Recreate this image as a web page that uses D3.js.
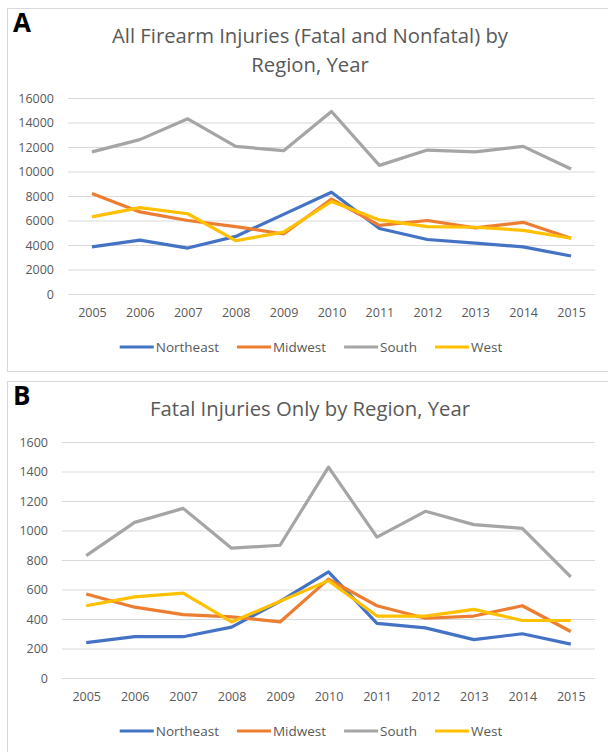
<!DOCTYPE html>
<html>
<head>
<meta charset="utf-8">
<script src="https://cdn.jsdelivr.net/npm/d3@7"></script>
<style>
	body { margin: 0; background: #fff; }
	text { font-family: "Open Sans", "Noto Sans", sans-serif; }
</style>
</head>
<body>
<div id="chart"></div>
<script>
// years on the x axis
const years = ["2005", "2006", "2007", "2008", "2009", "2010", "2011", "2012", "2013", "2014", "2015"];
const regions = ["Northeast", "Midwest", "South", "West"];

// panel A: all firearm injuries
const allNortheast = [3850, 4400, 3750, 4700, 6500, 8300, 5350, 4450, 4150, 3850, 3100];
const allMidwest   = [8200, 6700, 6000, 5500, 4900, 7750, 5600, 6000, 5400, 5850, 4550];
const allSouth     = [11600, 12600, 14300, 12050, 11700, 14900, 10500, 11750, 11600, 12050, 10200];
const allWest      = [6300, 7050, 6550, 4350, 5050, 7550, 6050, 5500, 5450, 5200, 4550];
const allTicks = [0, 2000, 4000, 6000, 8000, 10000, 12000, 14000, 16000];

// panel B: fatal injuries only
const fatalNortheast = [240, 280, 280, 345, 520, 720, 370, 340, 260, 300, 230];
const fatalMidwest   = [570, 480, 430, 415, 380, 670, 490, 405, 420, 490, 315];
const fatalSouth     = [830, 1055, 1150, 880, 900, 1430, 955, 1130, 1040, 1015, 685];
const fatalWest      = [490, 550, 575, 380, 520, 660, 420, 420, 465, 390, 390];
const fatalTicks = [0, 200, 400, 600, 800, 1000, 1200, 1400, 1600];

const colors = ["#4472C4", "#ED7D31", "#A5A5A5", "#FFC000"];
const textColor = "#595959";

const svg = d3.select("#chart").append("svg")
	.attr("width", 608)
	.attr("height", 752);

function drawPanel(p) {
	//outer frame of the panel
	svg.append("rect")
		.attr("x", 7.5).attr("y", p.top + 0.5)
		.attr("width", 620).attr("height", p.boxHeight)
		.attr("fill", "#fff")
		.attr("stroke", "#d9d9d9");

	//panel letter
	svg.append("text")
		.attr("x", 13).attr("y", p.top + 24)
		.attr("font-family", "Liberation Sans, Arial, sans-serif")
		.attr("font-weight", "bold")
		.attr("font-size", 26)
		.attr("fill", "#000")
		.text(p.letter);

	//title lines
	p.title.forEach(function(t, i) {
		svg.append("text")
			.attr("x", 310)
			.attr("y", p.titleY + i * 29)
			.attr("text-anchor", "middle")
			.attr("font-size", 20.3)
			.attr("fill", textColor)
			.text(t);
	});

	const x = d3.scalePoint().domain(years).range([p.left, 595]).padding(0.5);
	const y = d3.scaleLinear().domain([0, d3.max(p.ticks)]).range([p.bottom, p.yTop]);

	//y axis with gridlines
	const yAxis = svg.append("g")
		.attr("transform", "translate(" + p.left + ",0)")
		.call(d3.axisLeft(y).tickValues(p.ticks).tickFormat(d3.format("d"))
			.tickSize(-(595 - p.left)).tickPadding(14));
	yAxis.select(".domain").remove();
	yAxis.selectAll("line").attr("stroke", "#d9d9d9");
	yAxis.selectAll("text")
		.attr("font-size", 12.5)
		.attr("font-family", "Open Sans, sans-serif")
		.attr("fill", textColor);

	//x axis labels
	const xAxis = svg.append("g")
		.attr("transform", "translate(0," + p.bottom + ")")
		.call(d3.axisBottom(x).tickSize(0).tickPadding(14.5));
	xAxis.select(".domain").remove();
	xAxis.selectAll("text")
		.attr("font-size", 12.5)
		.attr("font-family", "Open Sans, sans-serif")
		.attr("fill", textColor);

	//series lines
	const line = d3.line()
		.x(function(d, i) { return x(years[i]); })
		.y(function(d) { return y(d); });

	p.series.forEach(function(s, i) {
		svg.append("path")
			.datum(s)
			.attr("fill", "none")
			.attr("stroke", colors[i])
			.attr("stroke-width", 3.2)
			.attr("stroke-linejoin", "round")
			.attr("d", line);
	});

	//legend
	const legend = svg.append("g");
	let pos = 0;
	regions.forEach(function(r, i) {
		const item = legend.append("g").attr("transform", "translate(" + pos + ",0)");
		item.append("line")
			.attr("x1", 0).attr("x2", 34)
			.attr("stroke", colors[i])
			.attr("stroke-width", 3.2);
		const t = item.append("text")
			.attr("x", 36)
			.attr("dy", "0.35em")
			.attr("font-size", 13.5)
			.attr("fill", textColor)
			.text(r);
		pos += 36 + t.node().getComputedTextLength() + 18;
	});
	pos -= 18;
	legend.attr("transform", "translate(" + (311 - pos / 2) + "," + p.legendY + ")");
}

drawPanel({
	letter: "A",
	top: 8,
	boxHeight: 363,
	title: ["All Firearm Injuries (Fatal and Nonfatal) by", "Region, Year"],
	titleY: 43,
	left: 68,
	yTop: 98,
	bottom: 294,
	ticks: allTicks,
	series: [allNortheast, allMidwest, allSouth, allWest],
	legendY: 347
});

drawPanel({
	letter: "B",
	top: 381,
	boxHeight: 400,
	title: ["Fatal Injuries Only by Region, Year"],
	titleY: 416,
	left: 62,
	yTop: 442,
	bottom: 678,
	ticks: fatalTicks,
	series: [fatalNortheast, fatalMidwest, fatalSouth, fatalWest],
	legendY: 731
});
</script>
</body>
</html>
